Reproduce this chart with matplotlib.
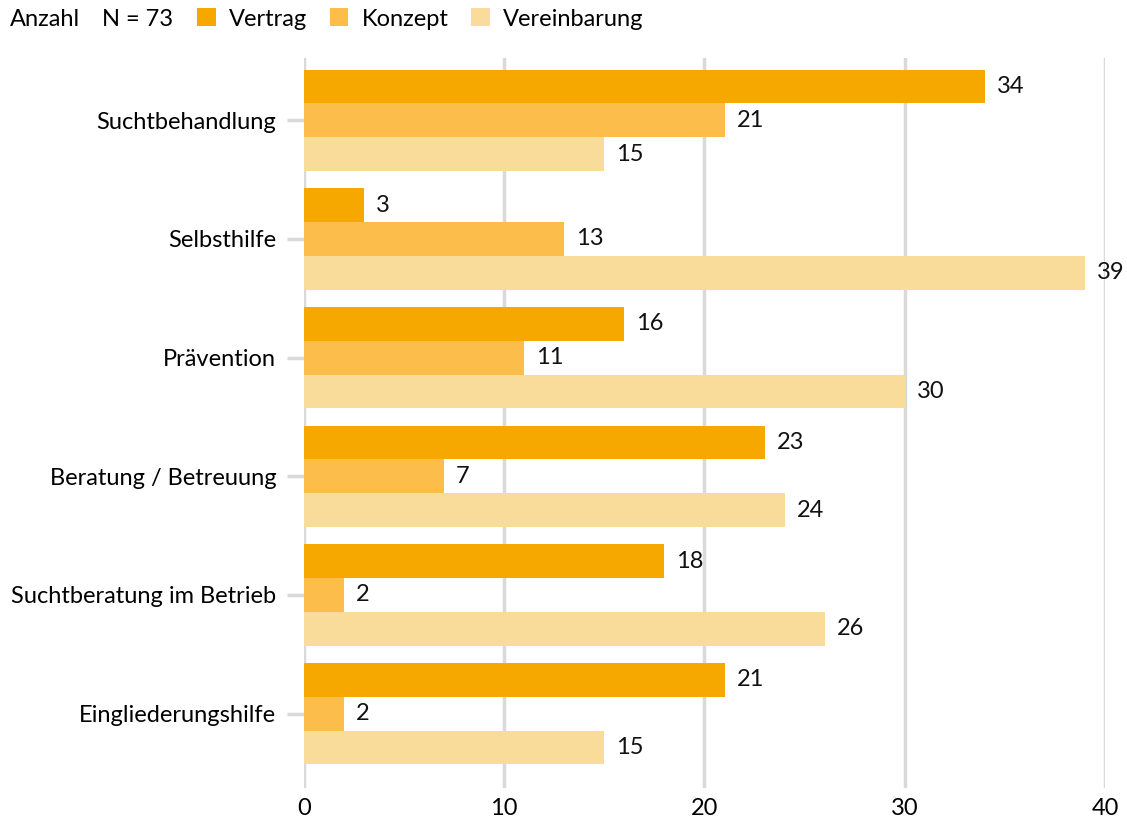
import matplotlib.pyplot as plt
import numpy as np
from matplotlib.patches import Patch

plt.rcParams['font.family'] = ['Lato', 'DejaVu Sans']

# Anzahl der Nennungen je Bereich
bereiche = ['Suchtbehandlung', 'Selbsthilfe', 'Prävention', 'Beratung / Betreuung',
            'Suchtberatung im Betrieb', 'Eingliederungshilfe']
vertrag = [34, 3, 16, 23, 18, 21]
konzept = [21, 13, 11, 7, 2, 2]
vereinbarung = [15, 39, 30, 24, 26, 15]

serien = ['Vertrag', 'Konzept', 'Vereinbarung']
farben = ['#F7A800', '#FDBD4A', '#F9DC9A']

fs = 17

fig = plt.figure(figsize=(11.27, 8.21), dpi=100)
ax = fig.add_axes([0.2697, 0.0402, 0.7108, 0.8892])

y = np.arange(len(bereiche))
h = 0.285
for i, (werte, farbe) in enumerate(zip([vertrag, konzept, vereinbarung], farben)):
    pos = y + (i - 1) * h
    ax.barh(pos, werte, height=h, color=farbe, zorder=2)
    for p, w in zip(pos, werte):
        ax.text(w + 0.6, p, str(w), va='center', ha='left', fontsize=fs, color='#111111')

ax.set_xlim(0, 40)
ax.set_ylim(5.627, -0.525)
ax.set_xticks([0, 10, 20, 30, 40])
ax.set_yticks(y)
ax.set_yticklabels(bereiche)
ax.grid(axis='x', color='#d9d9d9', linewidth=2.5, zorder=0)
for s in ax.spines.values():
    s.set_visible(False)
ax.tick_params(axis='x', length=0, labelsize=fs, pad=7)
ax.tick_params(axis='y', length=12, width=2.5, color='#d9d9d9', labelsize=fs, pad=8)

# Kopfzeile mit Legende
fig.text(10 / 1127, 1 - 19 / 821, 'Anzahl', fontsize=fs, va='center', ha='left')
fig.text(102 / 1127, 1 - 19 / 821, 'N = 73', fontsize=fs, va='center', ha='left')
handles = [Patch(facecolor=f, edgecolor='none') for f in farben]
fig.legend(handles, serien, ncol=3, loc='center left', bbox_to_anchor=(197 / 1127, 1 - 19 / 821),
           frameon=False, fontsize=fs, handlelength=0.8, handleheight=0.8,
           handletextpad=0.55, columnspacing=0.95, borderaxespad=0, borderpad=0)

fig.savefig('out.png', dpi=100)
